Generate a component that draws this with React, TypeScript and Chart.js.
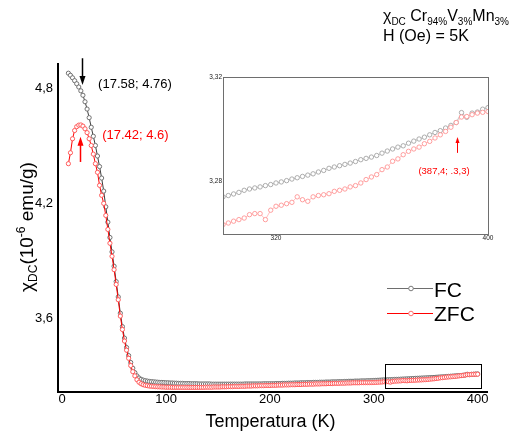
import React, { useEffect, useRef } from "react";
import { Chart, registerables } from "chart.js";

Chart.register(...registerables);

// ---------------- data ----------------
const temperatures = [
  6, 8, 10, 12, 14, 16, 18, 20, 22, 24,
  26, 28, 30, 32, 34, 36, 38, 40, 42, 44,
  46, 48, 50, 52, 54, 56, 58, 60, 62, 64,
  66, 68, 70, 72, 74, 76, 78, 80, 82, 84,
  86, 88, 90, 92, 94, 96, 98, 100, 102, 104,
  106, 108, 110, 112, 114, 116, 118, 120, 122, 124,
  126, 128, 130, 132, 134, 136, 138, 140, 142, 144,
  146, 148, 150, 152, 154, 156, 158, 160, 162, 164,
  166, 168, 170, 172, 174, 176, 178, 180, 182, 184,
  186, 188, 190, 192, 194, 196, 198, 200, 202, 204,
  206, 208, 210, 212, 214, 216, 218, 220, 222, 224,
  226, 228, 230, 232, 234, 236, 238, 240, 242, 244,
  246, 248, 250, 252, 254, 256, 258, 260, 262, 264,
  266, 268, 270, 272, 274, 276, 278, 280, 282, 284,
  286, 288, 290, 292, 294, 296, 298, 300, 302, 304,
  306, 308, 310, 312, 314, 316, 318, 320, 322, 324,
  326, 328, 330, 332, 334, 336, 338, 340, 342, 344,
  346, 348, 350, 352, 354, 356, 358, 360, 362, 364,
  366, 368, 370, 372, 374, 376, 378, 380, 382, 384,
  386, 388, 390, 392, 394, 396, 398, 400,
];

const fcValues = [
  4.877, 4.866, 4.853, 4.838, 4.822, 4.805, 4.785, 4.762, 4.728, 4.690,
  4.645, 4.595, 4.548, 4.500, 4.445, 4.390, 4.330, 4.262, 4.180, 4.100,
  4.020, 3.945, 3.870, 3.790, 3.710, 3.625, 3.555, 3.495, 3.446, 3.404,
  3.368, 3.338, 3.315, 3.298, 3.287, 3.280, 3.276, 3.273, 3.271, 3.269,
  3.268, 3.267, 3.266, 3.265, 3.264, 3.264, 3.263, 3.262, 3.262, 3.261,
  3.261, 3.260, 3.260, 3.259, 3.259, 3.259, 3.258, 3.258, 3.258, 3.257,
  3.257, 3.257, 3.257, 3.256, 3.256, 3.256, 3.256, 3.256, 3.256, 3.255,
  3.255, 3.255, 3.255, 3.255, 3.255, 3.255, 3.255, 3.255, 3.255, 3.255,
  3.255, 3.255, 3.255, 3.255, 3.255, 3.256, 3.256, 3.256, 3.256, 3.256,
  3.256, 3.256, 3.256, 3.256, 3.257, 3.257, 3.257, 3.257, 3.257, 3.257,
  3.258, 3.258, 3.258, 3.259, 3.259, 3.259, 3.260, 3.260, 3.260, 3.261,
  3.261, 3.261, 3.262, 3.262, 3.262, 3.263, 3.263, 3.263, 3.264, 3.264,
  3.264, 3.265, 3.265, 3.265, 3.266, 3.266, 3.266, 3.267, 3.267, 3.267,
  3.268, 3.268, 3.268, 3.269, 3.269, 3.270, 3.270, 3.270, 3.271, 3.271,
  3.271, 3.272, 3.272, 3.272, 3.273, 3.273, 3.2736, 3.2742, 3.2747, 3.2753,
  3.2759, 3.2767, 3.2772, 3.2776, 3.2780, 3.2785, 3.2789, 3.2795, 3.2799, 3.2804,
  3.2810, 3.2815, 3.2820, 3.2825, 3.2830, 3.2837, 3.2843, 3.2851, 3.2856, 3.2861,
  3.2866, 3.2871, 3.2877, 3.2884, 3.2889, 3.2894, 3.2900, 3.2909, 3.2917, 3.2925,
  3.2932, 3.2937, 3.2947, 3.2955, 3.2963, 3.2970, 3.2979, 3.2988, 3.2995, 3.3005,
  3.3015, 3.3026, 3.3064, 3.3046, 3.3062, 3.3066, 3.3077, 3.3083,
];

const zfcValues = [
  4.405, 4.462, 4.535, 4.578, 4.598, 4.606, 4.607, 4.601, 4.587, 4.567,
  4.535, 4.500, 4.455, 4.405, 4.360, 4.292, 4.240, 4.198, 4.135, 4.062,
  3.990, 3.922, 3.852, 3.775, 3.695, 3.610, 3.540, 3.480, 3.432, 3.390,
  3.352, 3.320, 3.298, 3.278, 3.265, 3.257, 3.252, 3.249, 3.247, 3.245,
  3.244, 3.243, 3.242, 3.241, 3.241, 3.240, 3.240, 3.239, 3.239, 3.239,
  3.238, 3.238, 3.238, 3.238, 3.238, 3.238, 3.238, 3.238, 3.238, 3.238,
  3.238, 3.238, 3.238, 3.238, 3.238, 3.238, 3.239, 3.239, 3.239, 3.239,
  3.240, 3.240, 3.240, 3.240, 3.241, 3.241, 3.241, 3.242, 3.242, 3.242,
  3.243, 3.243, 3.243, 3.244, 3.244, 3.244, 3.245, 3.245, 3.245, 3.246,
  3.246, 3.246, 3.247, 3.247, 3.247, 3.248, 3.248, 3.248, 3.249, 3.249,
  3.249, 3.250, 3.250, 3.250, 3.251, 3.251, 3.251, 3.252, 3.252, 3.252,
  3.253, 3.253, 3.253, 3.254, 3.254, 3.254, 3.255, 3.255, 3.255, 3.256,
  3.256, 3.256, 3.257, 3.257, 3.257, 3.258, 3.258, 3.258, 3.259, 3.259,
  3.259, 3.260, 3.260, 3.260, 3.261, 3.261, 3.261, 3.262, 3.262, 3.262,
  3.262, 3.263, 3.263, 3.263, 3.263, 3.263, 3.2634, 3.2636, 3.2642, 3.2649,
  3.2655, 3.2661, 3.2674, 3.2678, 3.2678, 3.2655, 3.2691, 3.2706, 3.2710, 3.2716,
  3.2721, 3.2742, 3.2731, 3.2725, 3.2742, 3.2747, 3.2750, 3.2754, 3.2763, 3.2767,
  3.2772, 3.2780, 3.2785, 3.2795, 3.2808, 3.2818, 3.2827, 3.2846, 3.2856, 3.2878,
  3.2887, 3.2903, 3.2916, 3.2925, 3.2932, 3.2945, 3.2954, 3.2967, 3.2979, 3.2992,
  3.3008, 3.3026, 3.3047, 3.3049, 3.3056, 3.3062, 3.3065, 3.3068,
];

const seriesNames = ["FC", "ZFC"];
const mainXTicks = [0, 100, 200, 300, 400];
const mainYTicks = [3.6, 4.2, 4.8];
const insetXTicks = [320, 400];
const insetYTicks = [3.28, 3.32];

// annotations (data coordinates)
const peakArrows = [
  { t: 19.2, from: 4.955, to: 4.815, color: "#000000" },
  { t: 17.3, from: 4.414, to: 4.545, color: "#ff0000" },
];
const peakLabels = [
  { text: "(17.58; 4.76)", t: 34.6, v: 4.816, color: "#000000" },
  { text: "(17.42; 4.6)", t: 38.5, v: 4.55, color: "#ff0000" },
];
const zoomBox = { tMin: 311, tMax: 403, vMin: 3.235, vMax: 3.36 };
const insetArrow = { t: 388.3, from: 3.291, to: 3.2971, color: "#ff0000" };
const insetLabel = { text: "(387,4; .3,3)", t: 383.4, v: 3.2838, color: "#ff0000" };

// ---------------- helpers ----------------
const FONT = "'Liberation Sans', Arial, Helvetica, sans-serif";
Chart.defaults.font.family = FONT;

type Part = { t: string; size: number; dy: number };

function drawRich(ctx: CanvasRenderingContext2D, parts: Part[], x: number, y: number) {
  let cx = x;
  for (const p of parts) {
    ctx.font = `${p.size}px ${FONT}`;
    ctx.fillText(p.t, cx, y + p.dy);
    cx += ctx.measureText(p.t).width;
  }
}

function richWidth(ctx: CanvasRenderingContext2D, parts: Part[]) {
  let w = 0;
  for (const p of parts) {
    ctx.font = `${p.size}px ${FONT}`;
    w += ctx.measureText(p.t).width;
  }
  return w;
}

function drawArrow(
  ctx: CanvasRenderingContext2D,
  x: number,
  yTail: number,
  yTip: number,
  color: string,
  lw: number,
  headLen: number,
  headW: number
) {
  const dir = yTip > yTail ? 1 : -1;
  ctx.strokeStyle = color;
  ctx.fillStyle = color;
  ctx.lineWidth = lw;
  ctx.beginPath();
  ctx.moveTo(x, yTail);
  ctx.lineTo(x, yTip - dir * headLen * 0.7);
  ctx.stroke();
  ctx.beginPath();
  ctx.moveTo(x, yTip);
  ctx.lineTo(x - headW / 2, yTip - dir * headLen);
  ctx.lineTo(x + headW / 2, yTip - dir * headLen);
  ctx.closePath();
  ctx.fill();
}

const mainOverlay = {
  id: "mainOverlay",
  afterDraw(chart: any) {
    const { ctx, chartArea } = chart;
    const x = chart.scales.x;
    const y = chart.scales.y;
    ctx.save();

    // zoom box
    const bx0 = Math.round(x.getPixelForValue(zoomBox.tMin)) + 0.5;
    const bx1 = Math.round(x.getPixelForValue(zoomBox.tMax)) + 0.5;
    const by0 = Math.round(y.getPixelForValue(zoomBox.vMax)) + 0.5;
    const by1 = Math.round(y.getPixelForValue(zoomBox.vMin)) + 0.5;
    ctx.strokeStyle = "#000";
    ctx.lineWidth = 1;
    ctx.strokeRect(bx0, by0, bx1 - bx0, by1 - by0);

    // arrows
    for (const a of peakArrows) {
      drawArrow(ctx, Math.round(x.getPixelForValue(a.t)) + 0.5, y.getPixelForValue(a.from), y.getPixelForValue(a.to), a.color, 1.5, 9, 6);
    }
    // labels
    ctx.font = `13px ${FONT}`;
    ctx.textBaseline = "middle";
    ctx.textAlign = "left";
    for (const l of peakLabels) {
      ctx.fillStyle = l.color;
      ctx.fillText(l.text, x.getPixelForValue(l.t), y.getPixelForValue(l.v));
    }

    // legend
    const legendRows = [
      { name: seriesNames[0], line: "#6e6e6e", point: "#7a7a7a", y: 288.5, base: 296.5 },
      { name: seriesNames[1], line: "#ff0000", point: "#ff6e6e", y: 313.5, base: 320.5 },
    ];
    for (const r of legendRows) {
      ctx.strokeStyle = r.line;
      ctx.lineWidth = 1;
      ctx.beginPath();
      ctx.moveTo(387, r.y);
      ctx.lineTo(433, r.y);
      ctx.stroke();
      ctx.beginPath();
      ctx.arc(411, r.y, 2.3, 0, Math.PI * 2);
      ctx.fillStyle = "#fff";
      ctx.fill();
      ctx.strokeStyle = r.point;
      ctx.stroke();
      ctx.fillStyle = "#000";
      ctx.font = `21px ${FONT}`;
      ctx.textBaseline = "alphabetic";
      ctx.textAlign = "left";
      ctx.fillText(r.name, 434, r.base);
    }

    // x title
    ctx.fillStyle = "#000";
    ctx.font = `18px ${FONT}`;
    ctx.textAlign = "center";
    ctx.textBaseline = "alphabetic";
    ctx.fillText("Temperatura (K)", (chartArea.left + chartArea.right) / 2 - 2, 426.5);

    // y title (rotated)
    const yParts: Part[] = [
      { t: "χ", size: 19, dy: 0 },
      { t: "DC", size: 12, dy: 4 },
      { t: "(10", size: 19, dy: 0 },
      { t: "-6", size: 12, dy: -8 },
      { t: " emu/g)", size: 19, dy: 0 },
    ];
    ctx.textAlign = "left";
    const w = richWidth(ctx, yParts);
    ctx.save();
    ctx.translate(32.5, 227);
    ctx.rotate(-Math.PI / 2);
    drawRich(ctx, yParts, -w / 2, 0);
    ctx.restore();

    // top-right title
    const tParts: Part[] = [
      { t: "χ", size: 16, dy: 0 },
      { t: "DC", size: 10, dy: 4 },
      { t: " Cr", size: 16, dy: 0 },
      { t: "94%", size: 10, dy: 4 },
      { t: "V", size: 16, dy: 0 },
      { t: "3%", size: 10, dy: 4 },
      { t: "Mn", size: 16, dy: 0 },
      { t: "3%", size: 10, dy: 4 },
    ];
    drawRich(ctx, tParts, 383, 20.5);
    ctx.font = `16px ${FONT}`;
    ctx.fillText("H (Oe) = 5K", 383, 40.5);

    ctx.restore();
  },
};

const insetOverlay = {
  id: "insetOverlay",
  beforeDraw(chart: any) {
    const { ctx, chartArea } = chart;
    ctx.save();
    ctx.fillStyle = "#fff";
    ctx.fillRect(chartArea.left, chartArea.top, chartArea.right - chartArea.left, chartArea.bottom - chartArea.top);
    ctx.restore();
  },
  afterDraw(chart: any) {
    const { ctx, chartArea } = chart;
    const x = chart.scales.x;
    const y = chart.scales.y;
    ctx.save();
    ctx.strokeStyle = "#6e6e6e";
    ctx.lineWidth = 1;
    ctx.strokeRect(
      Math.round(chartArea.left) + 0.5,
      Math.round(chartArea.top) + 0.5,
      Math.round(chartArea.right - chartArea.left),
      Math.round(chartArea.bottom - chartArea.top)
    );
    drawArrow(ctx, Math.round(x.getPixelForValue(insetArrow.t)) + 0.5, y.getPixelForValue(insetArrow.from), y.getPixelForValue(insetArrow.to), insetArrow.color, 1, 6, 4);
    ctx.fillStyle = insetLabel.color;
    ctx.font = `9.5px ${FONT}`;
    ctx.textAlign = "center";
    ctx.textBaseline = "middle";
    ctx.fillText(insetLabel.text, x.getPixelForValue(insetLabel.t), y.getPixelForValue(insetLabel.v));
    ctx.restore();
  },
};

function points(vals: number[], minT: number) {
  const out: { x: number; y: number }[] = [];
  temperatures.forEach((t, i) => {
    if (t >= minT) out.push({ x: t, y: vals[i] });
  });
  return out;
}

export default function App() {
  const mainRef = useRef<HTMLCanvasElement>(null);
  const insetRef = useRef<HTMLCanvasElement>(null);

  useEffect(() => {
    const main = new Chart(mainRef.current as HTMLCanvasElement, {
      type: "line",
      data: {
        datasets: [
          {
            label: seriesNames[0],
            data: points(fcValues, 0),
            borderColor: "#3c3c3c",
            borderWidth: 1,
            pointRadius: 2.1,
            pointBorderWidth: 1,
            pointBorderColor: "#707070",
            pointBackgroundColor: "#ffffff",
            order: 1,
          },
          {
            label: seriesNames[1],
            data: points(zfcValues, 0),
            borderColor: "#ff0000",
            borderWidth: 1,
            pointRadius: 2.1,
            pointBorderWidth: 1,
            pointBorderColor: "#ff5a5a",
            pointBackgroundColor: "#ffffff",
            order: 0,
          },
        ],
      },
      options: {
        responsive: false,
        animation: false,
        events: [],
        layout: { padding: { left: 0, top: 64, right: 35, bottom: 0 } },
        plugins: { legend: { display: false }, tooltip: { enabled: false } },
        scales: {
          x: {
            type: "linear",
            min: -4,
            max: 409,
            grid: { display: false, drawTicks: false },
            border: { display: true, color: "#000", width: 2 },
            ticks: { color: "#000", font: { size: 13 }, padding: 0, autoSkip: false, maxRotation: 0 },
            afterBuildTicks: (s: any) => {
              s.ticks = mainXTicks.map((v) => ({ value: v }));
            },
            afterFit: (s: any) => {
              s.height = 42;
            },
          },
          y: {
            type: "linear",
            min: 3.214,
            max: 4.925,
            grid: { display: false, drawTicks: false },
            border: { display: true, color: "#000", width: 2 },
            ticks: {
              color: "#000",
              font: { size: 13 },
              padding: 5,
              autoSkip: false,
              callback: (v: any) => Number(v).toFixed(1).replace(".", ","),
            },
            afterBuildTicks: (s: any) => {
              s.ticks = mainYTicks.map((v) => ({ value: v }));
            },
            afterFit: (s: any) => {
              s.width = 58;
            },
          },
        },
      },
      plugins: [mainOverlay],
    } as any);

    const inset = new Chart(insetRef.current as HTMLCanvasElement, {
      type: "line",
      data: {
        datasets: [
          {
            label: seriesNames[0],
            data: points(fcValues, 300),
            borderColor: "#b4b4b4",
            borderWidth: 0.8,
            pointRadius: 2.2,
            pointBorderWidth: 0.9,
            pointBorderColor: "#a4a4a4",
            pointBackgroundColor: "#ffffff",
            order: 1,
          },
          {
            label: seriesNames[1],
            data: points(zfcValues, 300),
            borderColor: "#ffb0b0",
            borderWidth: 0.8,
            pointRadius: 2.2,
            pointBorderWidth: 0.9,
            pointBorderColor: "#ff9494",
            pointBackgroundColor: "#ffffff",
            order: 0,
          },
        ],
      },
      options: {
        responsive: false,
        animation: false,
        events: [],
        layout: { padding: { left: 0, top: 9, right: 17, bottom: 0 } },
        plugins: { legend: { display: false }, tooltip: { enabled: false } },
        scales: {
          x: {
            type: "linear",
            min: 300,
            max: 400,
            grid: { display: false, drawTicks: false },
            border: { display: false },
            ticks: { color: "#222", font: { size: 6.5 }, padding: 0, autoSkip: false, maxRotation: 0 },
            afterBuildTicks: (s: any) => {
              s.ticks = insetXTicks.map((v) => ({ value: v }));
            },
            afterFit: (s: any) => {
              s.height = 19;
            },
          },
          y: {
            type: "linear",
            min: 3.26,
            max: 3.32,
            grid: { display: false, drawTicks: false },
            border: { display: false },
            ticks: {
              color: "#222",
              font: { size: 6.5 },
              padding: 1,
              autoSkip: false,
              callback: (v: any) => Number(v).toFixed(2).replace(".", ","),
            },
            afterBuildTicks: (s: any) => {
              s.ticks = insetYTicks.map((v) => ({ value: v }));
            },
            afterFit: (s: any) => {
              s.width = 28;
            },
          },
        },
      },
      plugins: [insetOverlay],
    } as any);

    return () => {
      main.destroy();
      inset.destroy();
    };
  }, []);

  return (
    <div style={{ position: "absolute", left: 0, top: 0, width: 522, height: 434, background: "#ffffff" }}>
      <canvas ref={mainRef} width={522} height={434} style={{ position: "absolute", left: 0, top: 0 }} />
      <canvas ref={insetRef} width={310} height={185} style={{ position: "absolute", left: 195, top: 68 }} />
    </div>
  );
}
